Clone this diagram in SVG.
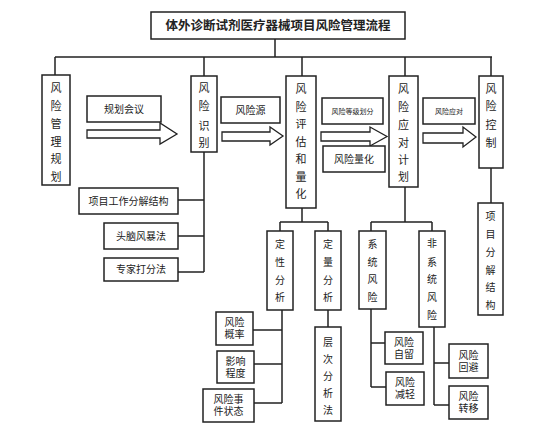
<svg xmlns="http://www.w3.org/2000/svg" width="554" height="444" viewBox="0 0 554 444">
<style>
.b{fill:#fff;stroke:#222;stroke-width:1.5}
.l{fill:none;stroke:#222;stroke-width:1.5}
.a{fill:#fff;stroke:#222;stroke-width:1.3;stroke-linejoin:miter}
text{font-family:"Liberation Sans","Noto Sans CJK SC","Noto Sans CJK JP",sans-serif;fill:#222;text-anchor:middle;dominant-baseline:central}
.v{font-size:11px}
.h{font-size:10px}
.s{font-size:7px}
.t{font-size:12.5px;font-weight:bold}
</style>
<rect width="554" height="444" fill="#fff"/>
<g id="connectors">
<path class="l" d="M275,39V57M55,57H492M55,57V75M204,57V76M302,57V76M405,57V76M491,57V76"/>
<path class="l" d="M204,152V272M178,200H204M178,236H204M178,272H204"/>
<path class="l" d="M302,208V222M280,222H328M280,222V231M328,222V231M282,310V403M253,330H282M254,364H282M254,403H282M328,310V327"/>
<path class="l" d="M405,187V222M371,222H432M371,222V231M432,222V231M371,309V387M371,343H385M371,387H386M434,327V405M434,363H449M434,405H449"/>
<path class="l" d="M491,168V203"/>
<polygon class="a" points="87,130 160,130 160,123 177,134 160,144 160,138 87,138"/>
<polygon class="a" points="222,132 270,132 270,127 283,136 270,145 270,141 222,141"/>
<polygon class="a" points="321,132 370,132 370,127 387,136.5 370,146 370,141 321,141"/>
<polygon class="a" points="423,133 463,133 463,127 476,137 463,147 463,143 423,143"/>
</g>
<g id="title"><rect class="b" x="151" y="12" width="254" height="27"/><text class="t" x="278" y="25.5">体外诊断试剂医疗器械项目风险管理流程</text></g>
<g id="n1"><rect class="b" x="42" y="75" width="28" height="110"/><text class="v" x="56" y="88">风</text><text class="v" x="56" y="106">险</text><text class="v" x="56" y="124">管</text><text class="v" x="56" y="142">理</text><text class="v" x="56" y="159">规</text><text class="v" x="56" y="177">划</text></g>
<g id="n2"><rect class="b" x="191" y="76" width="26" height="76"/><text class="v" x="204" y="88">风</text><text class="v" x="204" y="106">险</text><text class="v" x="204" y="126">识</text><text class="v" x="204" y="143">别</text></g>
<g id="n3"><rect class="b" x="286" y="76" width="30" height="132"/><text class="v" x="301" y="89">风</text><text class="v" x="301" y="107">险</text><text class="v" x="301" y="124">评</text><text class="v" x="301" y="142">估</text><text class="v" x="301" y="159">和</text><text class="v" x="301" y="177">量</text><text class="v" x="301" y="194">化</text></g>
<g id="n4"><rect class="b" x="389" y="76" width="29" height="111"/><text class="v" x="403.5" y="89">风</text><text class="v" x="403.5" y="107">险</text><text class="v" x="403.5" y="125">应</text><text class="v" x="403.5" y="143">对</text><text class="v" x="403.5" y="160">计</text><text class="v" x="403.5" y="177">划</text></g>
<g id="n5"><rect class="b" x="479" y="76" width="24" height="92"/><text class="v" x="491" y="89">风</text><text class="v" x="491" y="106">险</text><text class="v" x="491" y="125">控</text><text class="v" x="491" y="143">制</text></g>
<g id="l1"><rect class="b" x="87" y="96" width="74" height="26"/><text class="h" x="124" y="109">规划会议</text></g>
<g id="l2"><rect class="b" x="221" y="97" width="59" height="26"/><text class="h" x="250.5" y="110">风险源</text></g>
<g id="l3"><rect class="b" x="322" y="98" width="61" height="26"/><text class="s" x="352.5" y="111">风险等级划分</text></g>
<g id="l4"><rect class="b" x="323" y="146" width="62" height="26"/><text class="h" x="354" y="159">风险量化</text></g>
<g id="l5"><rect class="b" x="423" y="98" width="52" height="26"/><text class="s" x="449" y="111">风险应对</text></g>
<g id="i1"><rect class="b" x="79" y="188" width="99" height="26"/><text class="h" x="128.5" y="201">项目工作分解结构</text></g>
<g id="i2"><rect class="b" x="104" y="223" width="74" height="26"/><text class="h" x="141" y="236">头脑风暴法</text></g>
<g id="i3"><rect class="b" x="104" y="258" width="74" height="23"/><text class="h" x="141" y="269.5">专家打分法</text></g>
<g id="q1"><rect class="b" x="267" y="231" width="26" height="79"/><text class="h" x="280" y="244">定</text><text class="h" x="280" y="262">性</text><text class="h" x="280" y="280">分</text><text class="h" x="280" y="297">析</text></g>
<g id="q2"><rect class="b" x="315" y="231" width="26" height="79"/><text class="h" x="328" y="244">定</text><text class="h" x="328" y="262">量</text><text class="h" x="328" y="280">分</text><text class="h" x="328" y="297">析</text></g>
<g id="q3"><rect class="b" x="315" y="327" width="26" height="94"/><text class="h" x="328" y="342">层</text><text class="h" x="328" y="359">次</text><text class="h" x="328" y="376">分</text><text class="h" x="328" y="393">析</text><text class="h" x="328" y="410">法</text></g>
<g id="p1"><rect class="b" x="216" y="312" width="37" height="33"/><text class="h" x="234.5" y="322.5">风险</text><text class="h" x="234.5" y="334.5">概率</text></g>
<g id="p2"><rect class="b" x="217" y="351" width="37" height="32"/><text class="h" x="235.5" y="361">影响</text><text class="h" x="235.5" y="373">程度</text></g>
<g id="p3"><rect class="b" x="203" y="389" width="51" height="33"/><text class="h" x="228.5" y="399.5">风险事</text><text class="h" x="228.5" y="411.5">件状态</text></g>
<g id="r1"><rect class="b" x="359" y="231" width="27" height="78"/><text class="h" x="372.5" y="244">系</text><text class="h" x="372.5" y="262">统</text><text class="h" x="372.5" y="279">风</text><text class="h" x="372.5" y="297">险</text></g>
<g id="r2"><rect class="b" x="419" y="231" width="26" height="96"/><text class="h" x="432" y="243">非</text><text class="h" x="432" y="262">系</text><text class="h" x="432" y="279">统</text><text class="h" x="432" y="297">风</text><text class="h" x="432" y="315">险</text></g>
<g id="s1"><rect class="b" x="385" y="332" width="38" height="32"/><text class="h" x="404" y="342">风险</text><text class="h" x="404" y="354">自留</text></g>
<g id="s2"><rect class="b" x="386" y="372" width="38" height="33"/><text class="h" x="405" y="382.5">风险</text><text class="h" x="405" y="394.5">减轻</text></g>
<g id="s3"><rect class="b" x="449" y="344" width="39" height="34"/><text class="h" x="468.5" y="355">风险</text><text class="h" x="468.5" y="367">回避</text></g>
<g id="s4"><rect class="b" x="449" y="386" width="39" height="33"/><text class="h" x="468.5" y="396.5">风险</text><text class="h" x="468.5" y="408.5">转移</text></g>
<g id="c1"><rect class="b" x="478" y="203" width="25" height="112"/><text class="h" x="490.5" y="216">项</text><text class="h" x="490.5" y="234">目</text><text class="h" x="490.5" y="252">分</text><text class="h" x="490.5" y="270">解</text><text class="h" x="490.5" y="287">结</text><text class="h" x="490.5" y="305">构</text></g>
</svg>
